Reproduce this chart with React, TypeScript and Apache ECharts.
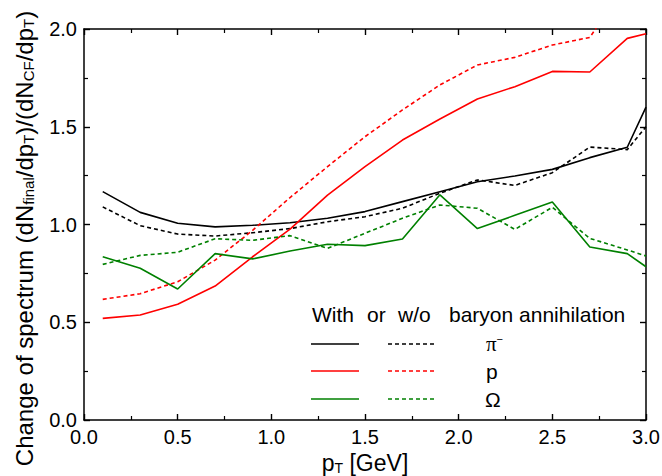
import React, { useEffect, useRef } from "react";
import * as echarts from "echarts";

const pT = [0.1, 0.3, 0.5, 0.7, 0.9, 1.1, 1.3, 1.5, 1.7, 1.9, 2.1, 2.3, 2.5, 2.7, 2.9, 3.0];

const piWith = [1.168, 1.062, 1.006, 0.988, 0.996, 1.009, 1.032, 1.066, 1.117, 1.168, 1.219, 1.248, 1.282, 1.342, 1.395, 1.6];
const piWithout = [1.09, 0.994, 0.951, 0.941, 0.958, 0.979, 1.014, 1.04, 1.083, 1.16, 1.228, 1.2, 1.265, 1.396, 1.383, 1.5];
const pWith = [0.52, 0.537, 0.592, 0.685, 0.835, 0.976, 1.15, 1.296, 1.432, 1.54, 1.642, 1.705, 1.783, 1.78, 1.952, 1.976];
const pWithout = [0.617, 0.646, 0.707, 0.818, 0.97, 1.138, 1.296, 1.449, 1.586, 1.714, 1.816, 1.855, 1.918, 1.957, 2.24, 2.4];
const omegaWith = [0.835, 0.776, 0.67, 0.851, 0.824, 0.864, 0.899, 0.892, 0.926, 1.152, 0.979, 1.047, 1.115, 0.885, 0.851, 0.784];
const omegaWithout = [0.796, 0.842, 0.858, 0.927, 0.919, 0.943, 0.878, 0.955, 1.032, 1.1, 1.083, 0.975, 1.088, 0.929, 0.87, 0.839];

const X_MIN = 0;
const X_MAX = 3;
const Y_MIN = 0;
const Y_MAX = 2;

const FONT = "'Liberation Sans', Arial, sans-serif";
const BLACK = "#000000";
const RED = "#ff0000";
const GREEN = "#008000";

const pairs = (ys: number[]) => pT.map((x, i) => [x, ys[i]]);

function axisBase(extra: any) {
  return {
    type: "value",
    axisLine: { show: true, onZero: false, lineStyle: { color: BLACK, width: 1.5 } },
    axisTick: { show: true, inside: true, length: 6, lineStyle: { color: BLACK, width: 1.4 } },
    minorTick: { show: true, splitNumber: 2, length: 4, lineStyle: { color: BLACK, width: 1.2 } },
    splitLine: { show: false },
    minorSplitLine: { show: false },
    ...extra,
  };
}

export default function App() {
  const ref = useRef<HTMLDivElement>(null);
  useEffect(() => {
    if (!ref.current) return;
    const chart = echarts.init(ref.current, null, { renderer: "svg" });
    const mkSeries = (data: number[], color: string, dashed: boolean) => ({
      type: "line",
      data: pairs(data),
      showSymbol: false,
      symbol: "none",
      clip: true,
      z: 1,
      lineStyle: { color, width: 1.6, type: dashed ? [4, 3] : "solid" },
      xAxisIndex: 0,
      yAxisIndex: 0,
    });

    const legendRows = [
      { y: 344, color: BLACK },
      { y: 371, color: RED },
      { y: 399, color: GREEN },
    ];
    const graphics: any[] = [];
    const hdr = [
      { t: "With", x: 312 },
      { t: "or", x: 367 },
      { t: "w/o", x: 398 },
      { t: "baryon annihilation", x: 449 },
    ];
    hdr.forEach((h) =>
      graphics.push({
        type: "text",
        x: h.x,
        y: 314.5,
        style: { text: h.t, font: `21px ${FONT}`, fill: BLACK, verticalAlign: "middle", align: "left" },
      })
    );
    legendRows.forEach((r) => {
      graphics.push({
        type: "line",
        shape: { x1: 311, y1: r.y, x2: 359, y2: r.y },
        style: { stroke: r.color, lineWidth: 1.6 },
      });
      graphics.push({
        type: "line",
        shape: { x1: 388, y1: r.y, x2: 434, y2: r.y },
        style: { stroke: r.color, lineWidth: 1.6, lineDash: [4, 3] },
      });
    });
    graphics.push({
      type: "text",
      x: 486,
      y: 344,
      style: {
        text: "{a|π}{s|−}",
        verticalAlign: "middle",
        rich: {
          a: { fontFamily: "'Liberation Serif', serif", fontSize: 21, fill: BLACK },
          s: { fontFamily: FONT, fontSize: 11, verticalAlign: "top", fill: BLACK },
        },
      },
    });
    graphics.push({
      type: "text",
      x: 486,
      y: 371,
      style: { text: "p", font: `21px ${FONT}`, fill: BLACK, verticalAlign: "middle" },
    });
    graphics.push({
      type: "text",
      x: 485,
      y: 399,
      style: { text: "Ω", font: `21px ${FONT}`, fill: BLACK, verticalAlign: "middle" },
    });

    chart.setOption({
      animation: false,
      backgroundColor: "#ffffff",
      grid: { left: 84, right: 16, top: 29, bottom: 56, containLabel: false, outerBoundsMode: "none" },
      xAxis: [
        axisBase({
          min: X_MIN,
          max: X_MAX,
          interval: 0.5,
          position: "bottom",
          axisLabel: {
            show: true,
            formatter: (v: number) => v.toFixed(1),
            fontFamily: FONT,
            fontSize: 20,
            color: BLACK,
            margin: 7,
          },
          name: "{a|p}{s|T}{a| [GeV]}",
          nameLocation: "middle",
          nameGap: 23,
          nameTextStyle: {
            rich: {
              a: { fontFamily: FONT, fontSize: 23, color: BLACK },
              s: { fontFamily: FONT, fontSize: 14, color: BLACK, verticalAlign: "bottom" },
            },
          },
        }),
        axisBase({
          min: X_MIN,
          max: X_MAX,
          interval: 0.5,
          position: "top",
          axisLabel: { show: false },
        }),
      ],
      yAxis: [
        axisBase({
          min: Y_MIN,
          max: Y_MAX,
          interval: 0.5,
          position: "left",
          axisLabel: {
            show: true,
            formatter: (v: number) => v.toFixed(1),
            fontFamily: FONT,
            fontSize: 20,
            color: BLACK,
            margin: 7,
          },
          name:
            "{a|Change of spectrum (dN}{s|final}{a|/dp}{s|T}{a|)/(dN}{s|CF}{a|/dp}{s|T}{a|)}",
          nameLocation: "middle",
          nameRotate: 90,
          nameGap: 48,
          nameTextStyle: {
            padding: [0, 28, 0, 0],
            rich: {
              a: { fontFamily: FONT, fontSize: 24, color: BLACK },
              s: { fontFamily: FONT, fontSize: 15, color: BLACK, verticalAlign: "bottom" },
            },
          },
        }),
        axisBase({
          min: Y_MIN,
          max: Y_MAX,
          interval: 0.5,
          position: "right",
          axisLabel: { show: false },
        }),
      ],
      series: [
        mkSeries(piWith, BLACK, false),
        mkSeries(piWithout, BLACK, true),
        mkSeries(pWith, RED, false),
        mkSeries(pWithout, RED, true),
        mkSeries(omegaWith, GREEN, false),
        mkSeries(omegaWithout, GREEN, true),
      ],
      graphic: graphics,
    });
    return () => chart.dispose();
  }, []);
  return <div ref={ref} style={{ width: 662, height: 476, position: "absolute", left: 0, top: 0 }} />;
}
